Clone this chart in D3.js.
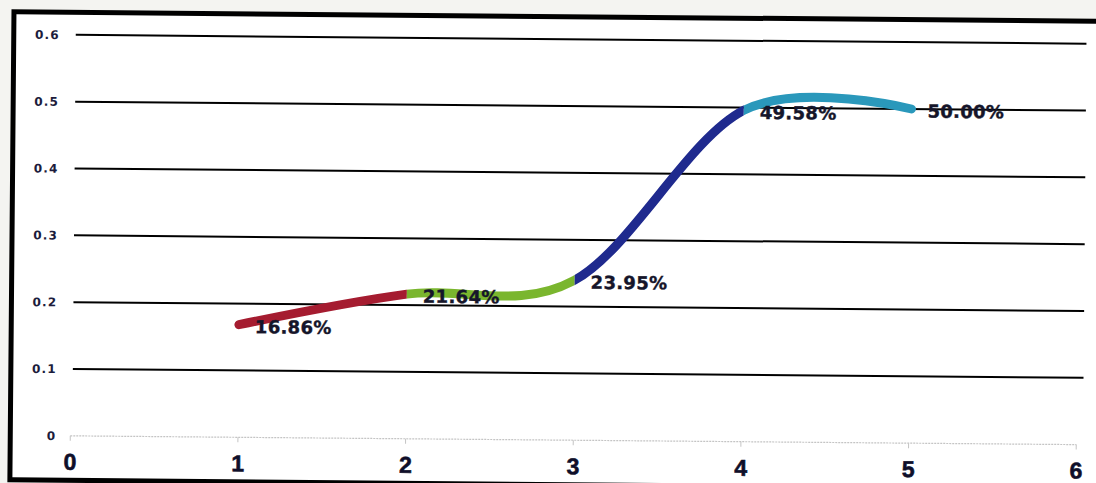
<!DOCTYPE html>
<html>
<head>
<meta charset="utf-8">
<script src="https://cdn.jsdelivr.net/npm/d3@7"></script>
<style>
  html, body { margin: 0; padding: 0; background: #ffffff; }
  svg { display: block; }
</style>
</head>
<body>
<svg id="chart" width="1096" height="483"></svg>
<script>
// ---- data ----
const xValues = [1, 2, 3, 4, 5];
const yValues = [0.1686, 0.2164, 0.2395, 0.4958, 0.5000];
const pointLabels = ["16.86%", "21.64%", "23.95%", "49.58%", "50.00%"];
const segmentColors = ["#a51c30", "#7ab62e", "#1f2a8e", "#2a98bb"];
const xTicks = [0, 1, 2, 3, 4, 5, 6];
const yTicks = [0, 0.1, 0.2, 0.3, 0.4, 0.5, 0.6];
const yTickLabels = ["0", "0.1", "0.2", "0.3", "0.4", "0.5", "0.6"];

// ---- layout ----
const W = 1096, H = 483;
const svg = d3.select("#chart");

// page background outside frame (slightly grey paper)
svg.append("rect").attr("x", 0).attr("y", 0).attr("width", W).attr("height", H).attr("fill", "#f4f4f1");

const root = svg.append("g").attr("transform", "rotate(0.5, 548, 240)");

// frame (white area with thick black border)
root.append("rect")
  .attr("x", 12).attr("y", 16.5).attr("width", 1200).attr("height", 468)
  .attr("fill", "#ffffff").attr("stroke", "#000").attr("stroke-width", 5);

const x = d3.scaleLinear().domain([0, 6]).range([72, 1078]);
const y = d3.scaleLinear().domain([0, 0.6]).range([440, 39]);

// gridlines
root.append("g").selectAll("line")
  .data(yTicks.filter(d => d > 0))
  .join("line")
  .attr("x1", x(0) + 2).attr("x2", x(6.04))
  .attr("y1", d => y(d)).attr("y2", d => y(d))
  .attr("stroke", "#000").attr("stroke-width", 2);

// baseline (light grey) + ticks
root.append("line")
  .attr("x1", x(0)).attr("x2", x(6)).attr("y1", y(0)).attr("y2", y(0))
  .attr("stroke", "#c4c4c4").attr("stroke-width", 1.2).attr("stroke-dasharray", "2,1");
root.append("g").selectAll("line")
  .data(xTicks)
  .join("line")
  .attr("x1", d => x(d)).attr("x2", d => x(d))
  .attr("y1", y(0)).attr("y2", y(0) + 5)
  .attr("stroke", "#c4c4c4").attr("stroke-width", 1);

// y tick labels
root.append("g").selectAll("text")
  .data(yTicks)
  .join("text")
  .attr("x", 58).attr("y", d => y(d)).attr("dy", "0.36em")
  .attr("text-anchor", "end")
  .attr("font-family", "DejaVu Sans, sans-serif").attr("font-weight", "bold")
  .attr("font-size", 12).attr("letter-spacing", 1.2)
  .attr("fill", "#1c1c3c")
  .text((d, i) => yTickLabels[i]);

// x tick labels
root.append("g").selectAll("text")
  .data(xTicks)
  .join("text")
  .attr("x", d => x(d)).attr("y", 474)
  .attr("text-anchor", "middle")
  .attr("font-family", "Liberation Sans, Arial, sans-serif").attr("font-weight", "bold")
  .attr("font-size", 23)
  .attr("fill", "#0f0f2a")
  .attr("stroke", "#0f0f2a").attr("stroke-width", 0.6)
  .text(d => d);

// smoothed line, coloured per segment via clip rects
const pts = xValues.map((v, i) => [v, yValues[i]]);
const line = d3.line().x(d => x(d[0])).y(d => y(d[1])).curve(d3.curveCardinal.tension(0));
const defs = svg.append("defs");
segmentColors.forEach((c, i) => {
  const x0 = i === 0 ? x(xValues[0]) - 10 : x(xValues[i]);
  const x1 = i === segmentColors.length - 1 ? x(xValues[i + 1]) + 10 : x(xValues[i + 1]);
  defs.append("clipPath").attr("id", "seg" + i)
    .append("rect").attr("x", x0).attr("y", 0).attr("width", x1 - x0).attr("height", H);
  root.append("path")
    .datum(pts)
    .attr("d", line)
    .attr("fill", "none")
    .attr("stroke", c)
    .attr("stroke-width", 9)
    .attr("stroke-linecap", "round")
    .attr("clip-path", "url(#seg" + i + ")");
});

// data labels
root.append("g").selectAll("text")
  .data(pts)
  .join("text")
  .attr("x", d => x(d[0]) + 16)
  .attr("y", d => y(d[1]) + 2)
  .attr("dy", "0.36em")
  .attr("font-family", "DejaVu Sans, sans-serif").attr("font-weight", "bold")
  .attr("font-size", 18).attr("letter-spacing", 0.3)
  .attr("fill", "#15152a")
  .attr("stroke", "#15152a").attr("stroke-width", 0.4)
  .text((d, i) => pointLabels[i]);
</script>
</body>
</html>
